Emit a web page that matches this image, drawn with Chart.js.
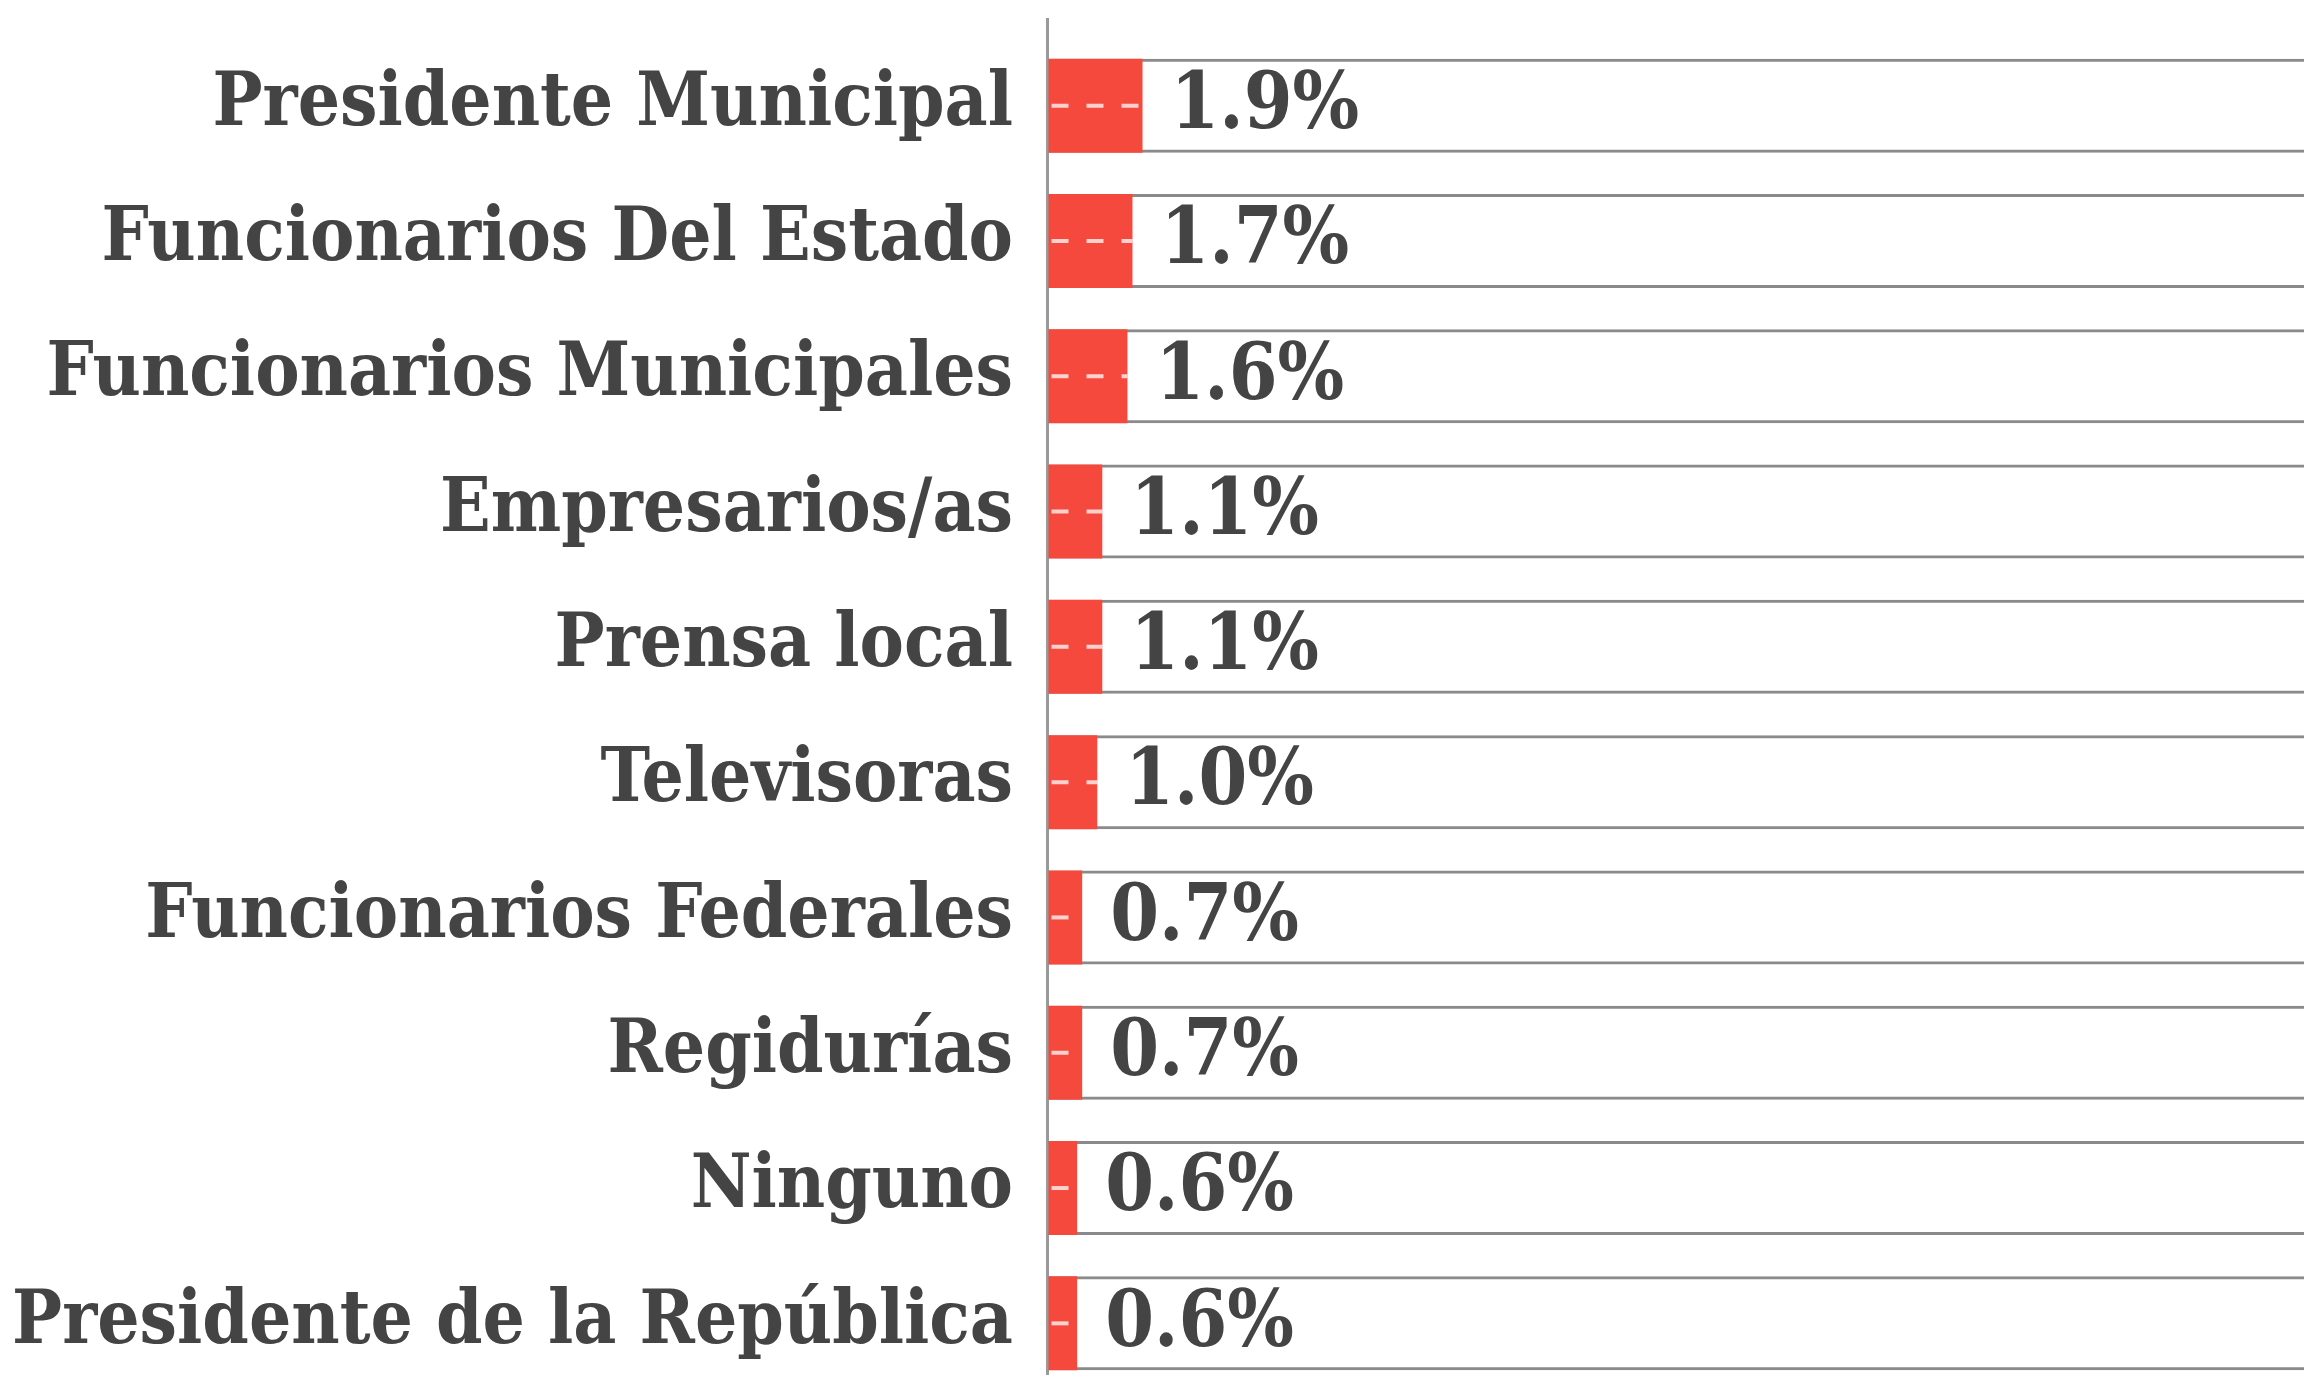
<!DOCTYPE html>
<html>
<head>
<meta charset="utf-8">
<script src="https://cdn.jsdelivr.net/npm/chart.js@4.4.1/dist/chart.umd.min.js"></script>
<style>
    html, body { margin: 0; padding: 0; background: #fff; overflow: hidden; }
    #wrap { position: relative; width: 2304px; height: 1391px; }
</style>
</head>
<body>
<div id="wrap"><canvas id="chart"></canvas></div>
<script>
// Data
const categories = [
    "Presidente Municipal",
    "Funcionarios Del Estado",
    "Funcionarios Municipales",
    "Empresarios/as",
    "Prensa local",
    "Televisoras",
    "Funcionarios Federales",
    "Regidurías",
    "Ninguno",
    "Presidente de la República"
];
const values = [1.9, 1.7, 1.6, 1.1, 1.1, 1.0, 0.7, 0.7, 0.6, 0.6];
const trackMax = 25;
const trackValues = categories.map(() => trackMax);

const FONT = "'DejaVu Serif Condensed', 'DejaVu Serif', serif";
const TEXT = "#444444";

// Value labels and the dashed white line inside each red bar
const barExtras = {
    id: "barExtras",
    afterDatasetsDraw(chart) {
        const ctx = chart.ctx;
        const meta = chart.getDatasetMeta(0);
        ctx.save();
        meta.data.forEach((bar, i) => {
            // dashed centre line
            ctx.setLineDash([17, 18]);
            ctx.strokeStyle = "rgba(255,255,255,0.75)";
            ctx.lineWidth = 4;
            ctx.beginPath();
            ctx.moveTo(bar.base + 3, bar.y);
            ctx.lineTo(bar.x, bar.y);
            ctx.stroke();

            // value label
            ctx.setLineDash([]);
            ctx.fillStyle = TEXT;
            ctx.font = "bold 78px " + FONT;
            ctx.textAlign = "left";
            ctx.textBaseline = "middle";
            ctx.fillText(values[i].toFixed(1) + "%", bar.x + 28, bar.y + 2);
        });
        ctx.restore();
    }
};

const ctx = document.getElementById("chart").getContext("2d");
new Chart(ctx, {
    type: "bar",
    data: {
        labels: categories,
        datasets: [
            {
                label: "Porcentaje",
                data: values,
                backgroundColor: "#f5493d",
                borderWidth: 0,
                grouped: false,
                barPercentage: 0.695,
                categoryPercentage: 1
            },
            {
                label: "track",
                data: trackValues,
                backgroundColor: "rgba(255,255,255,0)",
                borderColor: "#8a8a8a",
                borderWidth: { top: 3, bottom: 3, left: 0, right: 0 },
                borderSkipped: false,
                grouped: false,
                barPercentage: 0.695,
                categoryPercentage: 1
            }
        ]
    },
    options: {
        indexAxis: "y",
        responsive: true,
        maintainAspectRatio: false,
        animation: false,
        layout: { padding: { top: 18, right: 0, bottom: 0, left: 0 } },
        scales: {
            x: {
                position: "top",
                min: 0,
                max: trackMax,
                ticks: { display: false },
                border: { display: false },
                grid: {
                    drawOnChartArea: false,
                    drawTicks: true,
                    tickLength: 20,
                    lineWidth: 3,
                    color: (c) => (c.tick && c.tick.value === 0 ? "#999999" : "rgba(0,0,0,0)")
                }
            },
            y: {
                offset: true,
                grid: { display: false },
                border: { display: true, color: "#999999", width: 3 },
                ticks: {
                    color: TEXT,
                    padding: 26,
                    labelOffset: 0,
                    font: { family: FONT, size: 74, weight: "bold" }
                },
                afterFit: (scale) => {
                    scale.width = 1047;
                    scale.paddingTop = 0;
                    scale.paddingBottom = 0;
                }
            }
        },
        plugins: {
            legend: { display: false },
            tooltip: { enabled: false }
        }
    },
    plugins: [barExtras]
});
</script>
</body>
</html>
